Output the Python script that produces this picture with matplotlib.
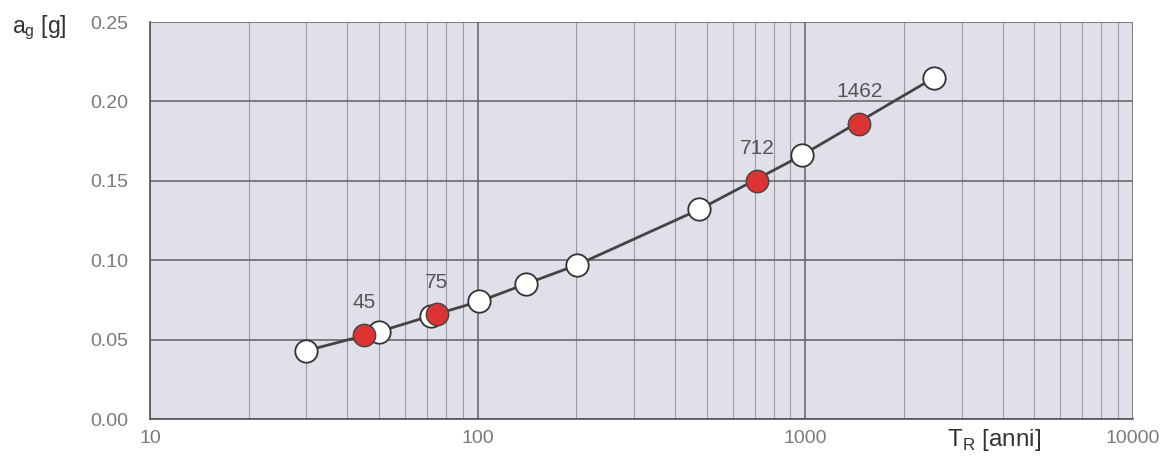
import matplotlib.pyplot as plt
from matplotlib.ticker import LogLocator, NullFormatter, FixedLocator

plt.rcParams['font.family'] = ['Liberation Sans', 'DejaVu Sans']
plt.rcParams['mathtext.fontset'] = 'custom'
plt.rcParams['mathtext.rm'] = 'Liberation Sans'

# periodi di ritorno (anni) e accelerazioni (g)
tr_all = [30, 50, 72, 101, 140, 201, 475, 975, 2475]
ag_all = [0.043, 0.055, 0.065, 0.074, 0.085, 0.097, 0.132, 0.166, 0.215]
tr_red = [45, 75, 712, 1462]
ag_red = [0.053, 0.066, 0.150, 0.186]
red_labels = ['45', '75', '712', '1462']

fig = plt.figure(figsize=(11.67, 4.59), dpi=100)
ax = fig.add_axes([150 / 1167, 1 - 419 / 459, 983 / 1167, 397 / 459])
ax.set_facecolor('#dfe0ea')

ax.plot(tr_all, ag_all, color='#444444', lw=2, zorder=3)
ax.scatter(tr_all, ag_all, s=260, facecolor='white', edgecolor='#333333', lw=1.3, zorder=4)
ax.scatter(tr_red, ag_red, s=260, facecolor='#dd3333', edgecolor='#444444', lw=1.0, zorder=5)
for t, a, lab in zip(tr_red, ag_red, red_labels):
    ax.annotate(lab, (t, a), xytext=(0, 19), textcoords='offset points', ha='center',
                fontsize=15, color='#555555')

ax.set_xscale('log')
ax.set_xlim(10, 10000)
ax.set_ylim(0, 0.25)
ax.xaxis.set_major_locator(LogLocator(base=10))
ax.xaxis.set_minor_locator(LogLocator(base=10, subs=range(2, 10)))
ax.xaxis.set_minor_formatter(NullFormatter())
ax.set_xticks([10, 100, 1000, 10000])
ax.set_xticklabels(['10', '100', '1000', '10000'])
ax.yaxis.set_major_locator(FixedLocator([0, 0.05, 0.10, 0.15, 0.20, 0.25]))
ax.set_yticklabels(['0.00', '0.05', '0.10', '0.15', '0.20', '0.25'])

ax.grid(which='major', color='#6a6a6e', lw=1.2)
ax.grid(which='minor', axis='x', color='#9a9aa2', lw=0.8)
ax.set_axisbelow(True)
ax.tick_params(which='both', length=0, labelsize=14, labelcolor='#7a7a7a')
ax.tick_params(axis='y', pad=16)
ax.tick_params(axis='x', pad=8)
for s in ax.spines.values():
    s.set_color('#555555')
    s.set_linewidth(1.2)
ax.spines['top'].set_visible(False)
ax.spines['right'].set_visible(False)

fig.text(12 / 1167, 1 - 28 / 459, r'a$_\mathregular{g}$ [g]', fontsize=16.5, color='#333333', va='center')
fig.text(947 / 1167, 1 - 440 / 459, r'T$_\mathregular{R}$ [anni]', fontsize=17.5, color='#333333', va='center')

fig.savefig('out.png', dpi=100)
